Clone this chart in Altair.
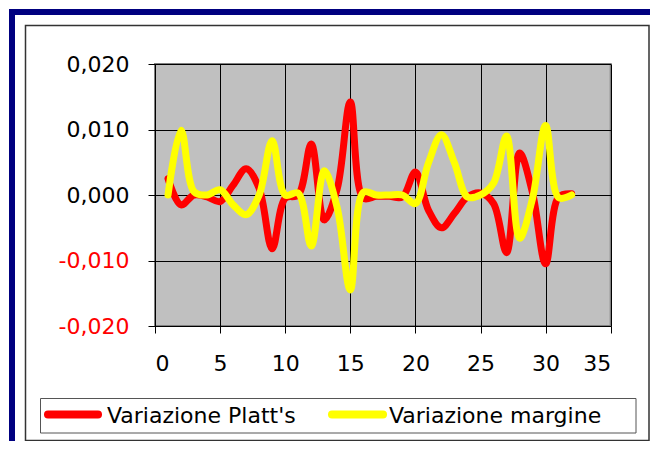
import altair as alt
import pandas as pd

# ---- data ----
x_values = list(range(1, 33))
platts = [0.0025, -0.0015, 0.0000, -0.0003, -0.0010, 0.0015, 0.0040, 0.0010,
          -0.0082, -0.0005, 0.0000, 0.0078, -0.0038, 0.0010, 0.0142, -0.0005,
          -0.0002, -0.0002, -0.0003, 0.0035, -0.0023, -0.0050, -0.0028, -0.0003,
          0.0003, -0.0013, -0.0088, 0.0064, 0.0003, -0.0105, -0.0003, 0.0002]
margine = [0.0000, 0.0099, 0.0005, 0.0000, 0.0008, -0.0015, -0.0030, 0.0000,
           0.0083, 0.0000, 0.0003, -0.0078, 0.0037, -0.0020, -0.0145, 0.0004,
           0.0000, 0.0000, 0.0000, -0.0013, 0.0049, 0.0092, 0.0049, -0.0003,
           0.0000, 0.0018, 0.0090, -0.0066, -0.0005, 0.0106, -0.0004, 0.0000]
series_names = ["Variazione Platt's", "Variazione margine"]
series_colors = ["#ff0000", "#ffff00"]
x_ticks = [0, 5, 10, 15, 20, 25, 30, 35]
y_ticks = [-0.02, -0.01, 0.0, 0.01, 0.02]

df = pd.concat([
    pd.DataFrame({"x": x_values, "v": platts, "s": series_names[0]}),
    pd.DataFrame({"x": x_values, "v": margine, "s": series_names[1]}),
])

FONT = "DejaVu Sans"
W, H = 455.7, 262
OX, OY = 155, 64  # page position of plot origin

def px(v):
    return alt.value(v - OX)

def py(v):
    return alt.value(v - OY)

xs = alt.Scale(domain=[0, 35], nice=False, zero=False)
ys = alt.Scale(domain=[-0.02, 0.02], nice=False)

label_expr = "replace(replace(format(datum.value, '.3f'), '.', ','), '\u2212', '-')"

lines = []
for name, col in zip(series_names, series_colors):
    lines.append(
        alt.Chart(df).transform_filter(alt.datum.s == name).mark_line(
            color=col, strokeWidth=7, interpolate="catmull-rom",
            strokeCap="round", strokeJoin="round", clip=False
        ).encode(
            x=alt.X("x:Q", scale=xs,
                    axis=alt.Axis(values=x_ticks, title=None, grid=True,
                                  labelFontSize=22, labelPadding=20)),
            y=alt.Y("v:Q", scale=ys,
                    axis=alt.Axis(values=y_ticks, title=None, grid=True,
                                  labelExpr=label_expr, labelFontSize=22,
                                  labelPadding=19,
                                  labelColor={"condition": {"test": "datum.value < 0", "value": "#ff0000"},
                                              "value": "#000000"})),
        )
    )

one = alt.Data(values=[{"a": 1}])
navy = "#000080"
deco = [
    alt.Chart(one).mark_rect(color=navy).encode(x=px(9), x2=px(15), y=py(9), y2=py(449)),
    alt.Chart(one).mark_rect(color=navy).encode(x=px(9), x2=px(658), y=py(9), y2=py(15)),
    alt.Chart(one).mark_rect(fill="transparent", stroke="#333333", strokeWidth=1.5).encode(
        x=px(25.5), x2=px(649), y=py(25.5), y2=py(440.5)),
    alt.Chart(one).mark_rect(fill="transparent", stroke="#555555", strokeWidth=1).encode(
        x=px(40.5), x2=px(636), y=py(398.5), y2=py(433)),
]

sym_x = [(44, 102), (328, 387)]
txt_x = [107, 389]
legend_layers = []
for name, col, (a, b), t in zip(series_names, series_colors, sym_x, txt_x):
    legend_layers.append(
        alt.Chart(one).mark_rule(color=col, strokeWidth=8, strokeCap="round").encode(
            x=px(a + 4), x2=px(b - 4), y=py(414.5))
    )
    legend_layers.append(
        alt.Chart(one).mark_text(text=name, font=FONT, fontSize=22, align="left",
                                 baseline="middle", color="#000000").encode(
            x=px(t), y=py(416))
    )

chart = alt.layer(*deco, *lines, *legend_layers).properties(
    width=W, height=H,
    padding={"left": OX - 8, "top": OY - 8, "right": 642 - (OX - 8) - W, "bottom": 433 - (OY - 8) - H},
    autosize=alt.AutoSizeParams(type="none"),
    background="#ffffff",
).configure_view(
    fill="#c0c0c0", stroke="#808080", strokeWidth=2
).configure_axis(
    labelFont=FONT, labelColor="#000000", domainColor="#000000", tickColor="#000000",
    gridColor="#000000", gridWidth=1, gridOpacity=1, tickSize=7, domainWidth=1,
)

chart.save("out.html", embed_options={"renderer": "svg", "actions": False})
